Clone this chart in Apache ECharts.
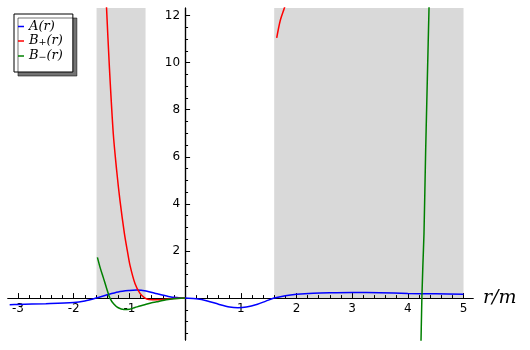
<!DOCTYPE html>
<html>
<head>
<meta charset="utf-8">
<script src="https://cdn.jsdelivr.net/npm/echarts@6/dist/echarts.min.js"></script>
<style>html,body{margin:0;padding:0;background:#fff}#c{width:530px;height:350px}</style>
</head>
<body>
<div id="c"></div>
<script>
// A(r)
const aR = [-3.15,-3.0,-2.5,-2.0,-1.8,-1.6,-1.4,-1.2,-1.0,-0.87,-0.7,-0.5,-0.3,-0.15,0,0.2,0.4,0.6,0.8,0.95,1.1,1.3,1.45,1.6,1.8,2.0,2.3,2.6,3.0,3.5,4.0,4.5,5.0];
const aV = [-0.28,-0.27,-0.24,-0.19,-0.12,0.0,0.14,0.26,0.32,0.34,0.30,0.18,0.07,0.02,0,-0.03,-0.12,-0.26,-0.38,-0.41,-0.38,-0.26,-0.13,0.0,0.10,0.16,0.21,0.23,0.24,0.23,0.20,0.18,0.16];
// B+(r), first branch
const bpR1 = [-1.44,-1.41,-1.36,-1.29,-1.23,-1.17,-1.09,-1.04,-0.99,-0.9,-0.81,-0.72,-0.65,-0.5,-0.35,-0.2,0];
const bpV1 = [13.8,12.3,9.84,7.0,5.45,4.16,2.75,2.05,1.4,0.62,0.2,0.0,-0.06,-0.07,-0.05,-0.02,0];
// B+(r), second branch
const bpR2 = [1.645,1.71,1.78,1.82];
const bpV2 = [11.05,11.8,12.3,12.6];
// B-(r), first branch
const bmR1 = [-1.575,-1.52,-1.47,-1.41,-1.35,-1.28,-1.2,-1.1,-1.0,-0.9,-0.81,-0.7,-0.6,-0.51,-0.4,-0.27,-0.15,0];
const bmV1 = [1.73,1.25,0.88,0.42,0.0,-0.25,-0.41,-0.48,-0.47,-0.40,-0.34,-0.26,-0.2,-0.16,-0.1,-0.05,-0.02,0];
// B-(r), second branch
const bmR2 = [4.236,4.245,4.252,4.27,4.29,4.32,4.35,4.38,4.39];
const bmV2 = [-1.85,-0.8,0,1.4,2.74,6.28,9.3,12.3,13.3];
// shaded intervals
const shadeStart = [-1.59, 1.6];
const shadeEnd = [-0.71, 5.0];
// tick labels
const xLabels = [-3,-2,-1,1,2,3,4,5];
const yLabels = [2,4,6,8,10,12];
const legendNames = ['A(r)','B+(r)','B-(r)'];

const zip = (xs, ys) => xs.map((x, i) => [x, ys[i]]);
const X_MIN = -3.18, X_MAX = 5.17, Y_MIN = -1.78, Y_MAX = 12.32;
const G = { left: 8, right: 57, top: 8, bottom: 10, W: 530, H: 350 };
const gw = G.W - G.left - G.right, gh = G.H - G.top - G.bottom;
// shift axes so they cross at the origin
const yAxisOffset = -((0 - X_MIN) / (X_MAX - X_MIN) * gw);
const xAxisOffset = -((0 - Y_MIN) / (Y_MAX - Y_MIN) * gh);

const xMinor = [];
for (let k = -15; k <= 25; k++) { const v = Math.round(k * 2) / 10; if (k % 5 !== 0 && v > X_MIN && v < X_MAX) xMinor.push(v); }
const yMinor = [];
for (let k = -3; k <= 24; k++) { const v = k / 2; if (k % 4 !== 0 && v > Y_MIN && v < Y_MAX) yMinor.push(v); }

const lblStyle = { fontFamily: 'DejaVu Sans', fontSize: 12, color: '#000' };
const mathFont = 'DejaVu Serif';

const chart = echarts.init(document.getElementById('c'));
chart.setOption({
  animation: false,
  backgroundColor: '#fff',
  grid: { left: G.left, right: G.right, top: G.top, bottom: G.bottom, containLabel: false, outerBoundsMode: 'none' },
  xAxis: [
    {
      type: 'value', min: X_MIN, max: X_MAX, position: 'bottom', offset: xAxisOffset, z: 1,
      axisLine: { onZero: false, lineStyle: { color: '#000', width: 1.2 } },
      axisTick: { inside: true, length: 5, customValues: xLabels, lineStyle: { color: '#000' } },
      axisLabel: Object.assign({ customValues: xLabels, margin: 5 }, lblStyle),
      splitLine: { show: false },
      name: 'r/m', nameLocation: 'end', nameGap: 10,
      nameTextStyle: { fontFamily: mathFont, fontStyle: 'italic', fontSize: 19, color: '#000', padding: [0, 0, 12, 0] }
    },
    {
      type: 'value', min: X_MIN, max: X_MAX, position: 'bottom', offset: xAxisOffset, z: 1,
      axisLine: { onZero: false, lineStyle: { color: '#000', width: 1.2 } },
      axisTick: { inside: true, length: 3, customValues: xMinor, lineStyle: { color: '#000' } },
      axisLabel: { show: false },
      splitLine: { show: false }
    }
  ],
  yAxis: [
    {
      type: 'value', min: Y_MIN, max: Y_MAX, position: 'left', offset: yAxisOffset, z: 1,
      axisLine: { onZero: false, lineStyle: { color: '#000', width: 1.2 } },
      axisTick: { inside: true, length: 5, customValues: yLabels, lineStyle: { color: '#000' } },
      axisLabel: Object.assign({ customValues: yLabels, margin: 5 }, lblStyle),
      splitLine: { show: false }
    },
    {
      type: 'value', min: Y_MIN, max: Y_MAX, position: 'left', offset: yAxisOffset, z: 1,
      axisLine: { onZero: false, lineStyle: { color: '#000', width: 1.2 } },
      axisTick: { inside: true, length: 3, customValues: yMinor, lineStyle: { color: '#000' } },
      axisLabel: { show: false },
      splitLine: { show: false }
    }
  ],
  legend: {
    data: legendNames,
    orient: 'vertical', left: 14, top: 14,
    icon: 'rect', itemWidth: 6, itemHeight: 1.5, itemGap: 1.5,
    padding: [6, 10, 9, 4],
    backgroundColor: '#fff', borderColor: '#000', borderWidth: 1, borderRadius: 0,
    shadowColor: 'rgba(0,0,0,0.55)', shadowOffsetX: 4, shadowOffsetY: 4, shadowBlur: 0,
    formatter: function (n) {
      if (n === 'A(r)') return '{m|A(r)}';
      if (n === 'B+(r)') return '{m|B}{s|+}{m|(r)}';
      return '{m|B}{s|\u2212}{m|(r)}';
    },
    textStyle: {
      color: '#000',
      rich: {
        m: { fontFamily: mathFont, fontStyle: 'italic', fontSize: 13, lineHeight: 14, color: '#000', verticalAlign: 'middle' },
        s: { fontFamily: mathFont, fontSize: 9.5, lineHeight: 8, color: '#000', verticalAlign: 'bottom' }
      }
    }
  },
  series: [
    {
      type: 'line', data: [], z: 0, silent: true,
      markArea: {
        silent: true,
        itemStyle: { color: '#d9d9d9' },
        data: shadeStart.map((s, i) => [{ xAxis: s, yAxis: 0 }, { xAxis: shadeEnd[i], yAxis: Y_MAX }])
      }
    },
    { name: 'A(r)', type: 'line', data: zip(aR, aV), showSymbol: false, smooth: 0.3, color: '#0000ff', lineStyle: { width: 1.5, color: '#0000ff' }, z: 3 },
    { name: 'B+(r)', type: 'line', data: zip(bpR1, bpV1), showSymbol: false, smooth: 0.3, color: '#ff0000', lineStyle: { width: 1.5, color: '#ff0000' }, z: 3 },
    { name: 'B+(r)', type: 'line', data: zip(bpR2, bpV2), showSymbol: false, smooth: 0.3, color: '#ff0000', lineStyle: { width: 1.5, color: '#ff0000' }, z: 3 },
    { name: 'B-(r)', type: 'line', data: zip(bmR1, bmV1), showSymbol: false, smooth: 0.3, color: '#008000', lineStyle: { width: 1.5, color: '#008000' }, z: 3 },
    { name: 'B-(r)', type: 'line', data: zip(bmR2, bmV2), showSymbol: false, smooth: 0.2, color: '#008000', lineStyle: { width: 1.5, color: '#008000' }, z: 3 }
  ]
});
</script>
</body>
</html>
